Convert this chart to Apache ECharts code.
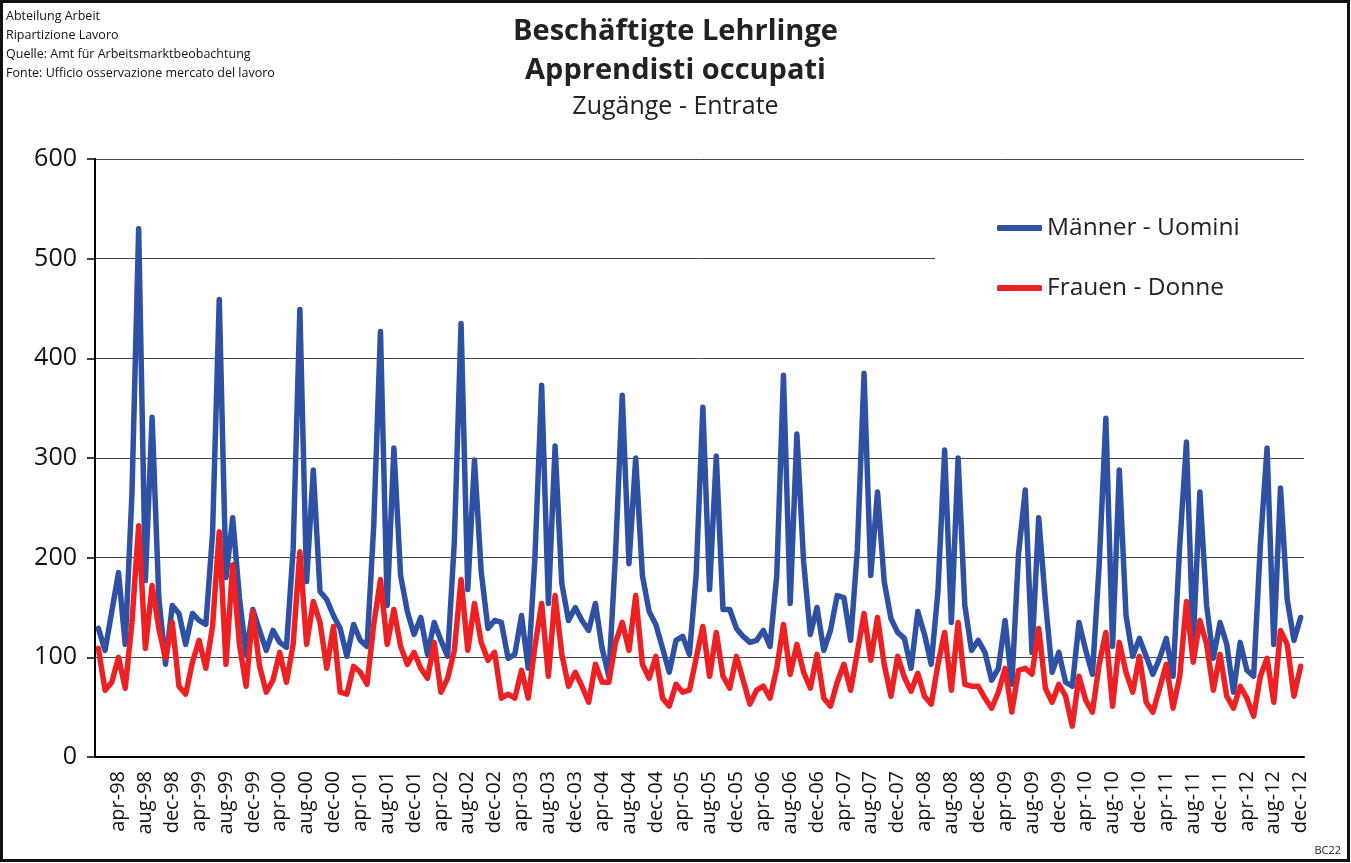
<!DOCTYPE html>
<html>
<head>
<meta charset="utf-8">
<title>Beschäftigte Lehrlinge</title>
<script src="https://cdn.jsdelivr.net/npm/echarts@6/dist/echarts.min.js"></script>
<style>
  html, body { margin: 0; padding: 0; background: #fff; }
  #chart { width: 1351px; height: 863px; }
</style>
</head>
<body>
<div id="chart"></div>
<script>
// Monate und Jahre der Kategorieachse (jan-98 ... dec-12)
const monthNames = ['jan', 'feb', 'mar', 'apr', 'may', 'jun', 'jul', 'aug', 'sep', 'oct', 'nov', 'dec']
const years = ['98', '99', '00', '01', '02', '03', '04', '05', '06', '07', '08', '09', '10', '11', '12']

const headerLines = [
  'Abteilung Arbeit',
  'Ripartizione Lavoro',
  'Quelle: Amt für Arbeitsmarktbeobachtung',
  'Fonte: Ufficio osservazione mercato del lavoro'
]

// Männer - Uomini, one row per year (jan..dec)
const maenner = [
  129, 107, 146, 185, 113, 264, 530, 177, 341, 160, 93, 152,
  144, 113, 144, 137, 133, 224, 459, 180, 240, 160, 103, 148,
  127, 107, 127, 115, 110, 208, 449, 176, 288, 166, 158, 142,
  129, 101, 133, 117, 111, 232, 427, 152, 310, 182, 146, 123,
  140, 103, 135, 117, 101, 216, 435, 168, 298, 186, 129, 137,
  135, 99, 103, 142, 89, 200, 373, 154, 312, 174, 137, 150,
  137, 127, 154, 109, 81, 204, 363, 194, 300, 182, 146, 133,
  109, 85, 117, 121, 103, 182, 351, 168, 302, 148, 148, 129,
  121, 115, 117, 127, 111, 182, 383, 154, 324, 196, 123, 150,
  107, 127, 162, 160, 117, 208, 385, 182, 266, 176, 139, 125,
  119, 89, 146, 123, 93, 166, 308, 135, 300, 152, 107, 117,
  105, 77, 89, 137, 73, 204, 268, 105, 240, 156, 85, 105,
  75, 71, 135, 107, 83, 192, 340, 111, 288, 142, 101, 119,
  101, 83, 99, 119, 81, 212, 316, 113, 266, 152, 99, 135,
  113, 65, 115, 87, 81, 212, 310, 113, 270, 158, 117, 140
]

// Frauen - Donne
const frauen = [
  109, 67, 75, 100, 69, 135, 232, 109, 172, 129, 99, 135,
  71, 63, 95, 117, 89, 131, 226, 93, 193, 113, 71, 146,
  91, 65, 77, 105, 75, 113, 206, 113, 156, 135, 89, 131,
  65, 63, 91, 85, 73, 133, 178, 113, 148, 111, 93, 105,
  89, 79, 115, 65, 79, 107, 178, 107, 154, 115, 97, 105,
  59, 63, 59, 87, 59, 111, 154, 81, 162, 103, 71, 85,
  71, 55, 93, 75, 75, 115, 135, 107, 162, 93, 79, 101,
  59, 51, 73, 65, 67, 99, 131, 81, 125, 81, 69, 101,
  77, 53, 67, 71, 59, 89, 133, 83, 113, 85, 69, 103,
  59, 51, 75, 93, 67, 105, 144, 97, 140, 93, 61, 101,
  80, 66, 84, 61, 53, 93, 125, 67, 135, 73, 71, 71,
  59, 49, 65, 89, 45, 87, 89, 83, 129, 69, 55, 73,
  61, 31, 81, 57, 45, 93, 125, 51, 115, 85, 65, 101,
  55, 45, 69, 93, 49, 81, 156, 95, 137, 113, 67, 103,
  61, 49, 71, 59, 41, 81, 99, 55, 127, 113, 61, 91
]

const categories = []
years.forEach(y => {
  monthNames.forEach(m => categories.push(m + '-' + y))
})

const font = '"Open Sans", "Noto Sans", sans-serif'

const chart = echarts.init(document.getElementById('chart'))
chart.setOption({
  animation: false,
  backgroundColor: '#fff',
  textStyle: { fontFamily: font },
  title: [
    {
      text: headerLines.join('\n'),
      left: 6,
      top: 7,
      padding: 0,
      textStyle: { fontSize: 12.5, fontWeight: 'normal', lineHeight: 19, color: '#111', fontFamily: font }
    },
    {
      text: 'Beschäftigte Lehrlinge',
      left: 'center',
      top: 17,
      padding: 0,
      textStyle: { fontSize: 29, fontWeight: 'bold', color: '#222', fontFamily: font }
    },
    {
      text: 'Apprendisti occupati',
      left: 'center',
      top: 56,
      padding: 0,
      textStyle: { fontSize: 29, fontWeight: 'bold', color: '#222', fontFamily: font }
    },
    {
      text: 'Zugänge - Entrate',
      left: 'center',
      top: 94,
      padding: 0,
      textStyle: { fontSize: 25, fontWeight: 'normal', color: '#222', fontFamily: font }
    },
    {
      text: 'BC22',
      right: 10,
      bottom: 7,
      padding: 0,
      textStyle: { fontSize: 11, fontWeight: 'normal', color: '#222', fontFamily: font }
    }
  ],
  graphic: [{
    type: 'rect',
    silent: true,
    shape: { x: 1.5, y: 1.5, width: 1347, height: 859 },
    style: { fill: null, stroke: '#111', lineWidth: 3 }
  }],
  legend: {
    orient: 'vertical',
    left: 935,
    top: 190,
    padding: [23, 70, 22, 62],
    backgroundColor: '#fff',
    icon: 'roundRect',
    itemWidth: 45,
    itemHeight: 6,
    itemGap: 30,
    textStyle: { fontSize: 24.5, color: '#222', lineHeight: 30, fontFamily: font },
    data: ['Männer - Uomini', 'Frauen - Donne']
  },
  grid: {
    left: 95,
    right: 47,
    top: 159,
    bottom: 106
  },
  xAxis: {
    type: 'category',
    data: categories,
    boundaryGap: true,
    axisLine: { lineStyle: { color: '#000', width: 2 } },
    axisTick: { interval: 0, length: 8, lineStyle: { color: '#000', width: 1.5 } },
    axisLabel: {
      interval: (i) => i % 4 === 3, // nur apr, aug, dec
      rotate: 90,
      fontSize: 20,
      color: '#111',
      margin: 14,
      fontFamily: font
    },
    splitLine: { show: false }
  },
  yAxis: {
    type: 'value',
    min: 0,
    max: 600,
    interval: 100,
    axisLine: { show: true, lineStyle: { color: '#000', width: 2 } },
    axisTick: { show: true, length: 8, lineStyle: { color: '#000', width: 1.5 } },
    axisLabel: { fontSize: 25, color: '#111', margin: 18, fontFamily: font },
    splitLine: { lineStyle: { color: '#444', width: 1 } }
  },
  series: [
    {
      name: 'Männer - Uomini',
      type: 'line',
      data: maenner,
      symbol: 'none',
      lineStyle: { color: '#2f51a3', width: 5.5, cap: 'round', join: 'round' },
      itemStyle: { color: '#2f51a3' }
    },
    {
      name: 'Frauen - Donne',
      type: 'line',
      data: frauen,
      symbol: 'none',
      lineStyle: { color: '#ed2024', width: 5.5, cap: 'round', join: 'round' },
      itemStyle: { color: '#ed2024' }
    }
  ]
})
</script>
</body>
</html>
